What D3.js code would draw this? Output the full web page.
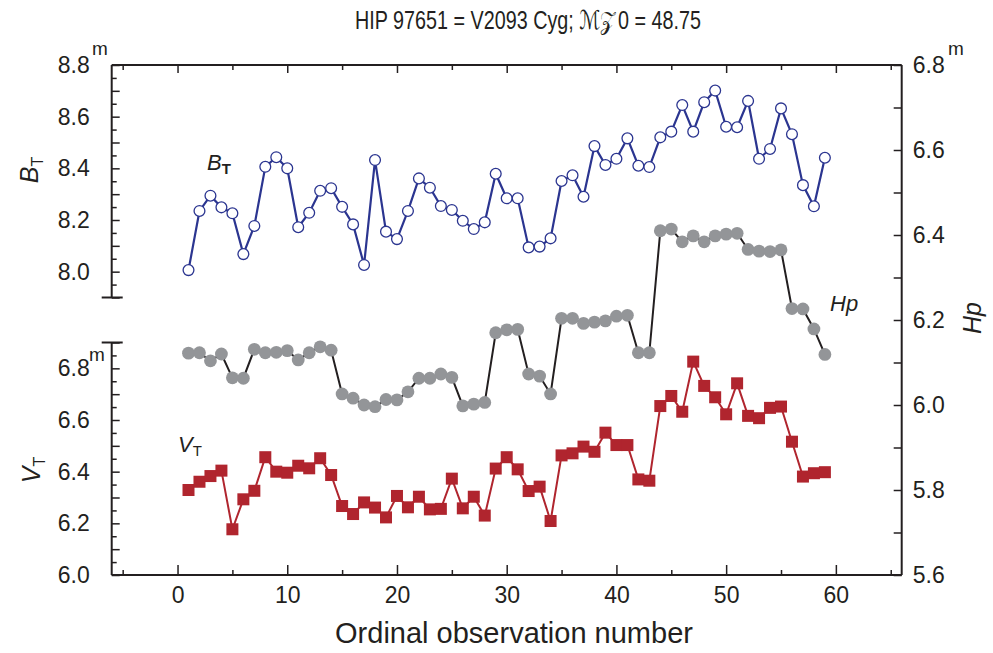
<!DOCTYPE html>
<html><head><meta charset="utf-8">
<script src="https://cdn.jsdelivr.net/npm/d3@7/dist/d3.min.js"></script>
<style>
body{margin:0;background:#fff;}
svg{display:block;font-family:"Liberation Sans",Arial,sans-serif;}
</style></head>
<body>
<svg id="c" width="993" height="653"></svg>
<script>
const obs = [1,2,3,4,5,6,7,8,9,10,11,12,13,14,15,16,17,18,19,20,21,22,23,24,25,26,27,28,29,30,
  31,32,33,34,35,36,37,38,39,40,41,42,43,44,45,46,47,48,49,50,51,52,53,54,55,56,57,58,59];
const bt = [8.006,8.235,8.294,8.249,8.226,8.068,8.177,8.406,8.443,8.400,8.172,8.228,8.313,8.323,8.251,
  8.183,8.026,8.432,8.155,8.126,8.235,8.361,8.325,8.254,8.239,8.197,8.165,8.191,8.379,8.284,
  8.284,8.094,8.097,8.129,8.351,8.373,8.290,8.486,8.413,8.437,8.516,8.410,8.405,8.520,8.542,
  8.645,8.542,8.656,8.701,8.561,8.559,8.661,8.437,8.475,8.632,8.532,8.335,8.253,8.441];
const hp = [6.122,6.123,6.104,6.120,6.064,6.063,6.131,6.123,6.124,6.128,6.106,6.123,6.137,6.129,6.026,
  6.016,6.000,5.996,6.013,6.012,6.031,6.063,6.063,6.073,6.065,5.998,6.002,6.006,6.170,6.177,
  6.178,6.073,6.068,6.026,6.204,6.204,6.192,6.195,6.198,6.209,6.211,6.123,6.123,6.410,6.414,
  6.384,6.398,6.384,6.398,6.402,6.404,6.366,6.362,6.361,6.365,6.227,6.226,6.179,6.119];
const vt = [6.329,6.361,6.383,6.404,6.177,6.293,6.326,6.456,6.400,6.396,6.423,6.413,6.452,6.387,6.267,
  6.236,6.281,6.261,6.223,6.306,6.262,6.303,6.254,6.256,6.373,6.258,6.303,6.230,6.412,6.456,
  6.409,6.325,6.342,6.209,6.463,6.471,6.497,6.477,6.551,6.503,6.503,6.370,6.365,6.654,6.693,
  6.632,6.826,6.732,6.688,6.622,6.742,6.616,6.607,6.647,6.652,6.516,6.381,6.394,6.398];
const xTicks = [0,10,20,30,40,50,60];
const btTicks = [8.0,8.2,8.4,8.6,8.8];
const vtTicks = [6.0,6.2,6.4,6.6,6.8];
const hpTicks = [5.6,5.8,6.0,6.2,6.4,6.6,6.8];

const svg = d3.select("#c");
const AX = "#231f20";
const x = d3.scaleLinear([-6,66],[111.7,901.7]);
const yB = d3.scaleLinear([7.9,8.8],[297.5,65]);
const yV = d3.scaleLinear([6.0,6.9],[575,342.5]);
const yH = d3.scaleLinear([5.6,6.8],[575,65]);
const fmt = d3.format(".1f");
const r2 = v => Math.round(v*100)/100;

function clean(g){ g.select(".domain").remove(); g.selectAll("line").attr("stroke",AX).attr("stroke-width",1.5); g.selectAll("text").attr("fill",AX); }

// top axis ticks
const minorX = [-5,5,15,25,35,45,55,65];
svg.append("g").attr("transform","translate(0,65)").call(d3.axisBottom(x).tickValues(xTicks).tickSize(8).tickFormat("")).call(clean);
svg.append("g").attr("transform","translate(0,65)").call(d3.axisBottom(x).tickValues(minorX).tickSize(5).tickFormat("")).call(clean);
// bottom axis
svg.append("g").attr("transform","translate(0,575)").call(d3.axisBottom(x).tickValues(xTicks).tickSize(-10).tickPadding(12).tickFormat(d3.format("d")))
  .call(clean).call(g=>g.selectAll("text").attr("font-size",23).attr("font-family","Liberation Sans, Arial"));
svg.append("g").attr("transform","translate(0,575)").call(d3.axisBottom(x).tickValues(minorX).tickSize(-5).tickFormat("")).call(clean);

// left BT axis
const btAll = d3.range(0,19).map(i=>r2(7.9+i*0.05));
svg.append("g").attr("transform","translate(111.7,0)")
  .call(d3.axisLeft(yB).tickValues(btAll.filter(v=>Math.abs(v*10-Math.round(v*10))<1e-6)).tickSize(-8).tickFormat(""))
  .call(clean);
svg.append("g").attr("transform","translate(111.7,0)")
  .call(d3.axisLeft(yB).tickValues(btAll.filter(v=>Math.abs(v*10-Math.round(v*10))>1e-6)).tickSize(-5).tickFormat(""))
  .call(clean);
svg.append("g").attr("transform","translate(111.7,0)")
  .call(d3.axisLeft(yB).tickValues(btTicks).tickSize(0).tickPadding(22).tickFormat(fmt))
  .call(clean).call(g=>g.selectAll("text").attr("font-size",23));
// left VT axis
const vtAll = d3.range(0,19).map(i=>r2(6.0+i*0.05));
svg.append("g").attr("transform","translate(111.7,0)")
  .call(d3.axisLeft(yV).tickValues(vtAll.filter(v=>Math.abs(v*10-Math.round(v*10))<1e-6)).tickSize(-8).tickFormat(""))
  .call(clean);
svg.append("g").attr("transform","translate(111.7,0)")
  .call(d3.axisLeft(yV).tickValues(vtAll.filter(v=>Math.abs(v*10-Math.round(v*10))>1e-6)).tickSize(-5).tickFormat(""))
  .call(clean);
svg.append("g").attr("transform","translate(111.7,0)")
  .call(d3.axisLeft(yV).tickValues(vtTicks).tickSize(0).tickPadding(22).tickFormat(fmt))
  .call(clean).call(g=>g.selectAll("text").attr("font-size",23));
// right Hp axis
const hpAll = d3.range(0,13).map(i=>r2(5.6+i*0.1));
svg.append("g").attr("transform","translate(901.7,0)")
  .call(d3.axisRight(yH).tickValues(hpAll).tickSize(-8).tickFormat(""))
  .call(clean);
svg.append("g").attr("transform","translate(901.7,0)")
  .call(d3.axisRight(yH).tickValues(hpTicks).tickSize(0).tickPadding(11).tickFormat(fmt))
  .call(clean).call(g=>g.selectAll("text").attr("font-size",23));

// frame lines
const fr = svg.append("g").attr("stroke",AX).attr("stroke-width",2).attr("fill","none");
fr.append("line").attr("x1",x(-6)).attr("x2",x(66)).attr("y1",65).attr("y2",65);
fr.append("line").attr("x1",x(-6)).attr("x2",x(66)).attr("y1",575).attr("y2",575);
fr.append("line").attr("x1",x(66)).attr("x2",x(66)).attr("y1",65).attr("y2",575);
fr.append("line").attr("x1",x(-6)).attr("x2",x(-6)).attr("y1",yB(8.8)).attr("y2",yB(7.9));
fr.append("line").attr("x1",x(-6)-10).attr("x2",x(-6)+11).attr("y1",yB(7.9)).attr("y2",yB(7.9));
fr.append("line").attr("x1",x(-6)).attr("x2",x(-6)).attr("y1",yV(6.9)).attr("y2",yV(6.0));
fr.append("line").attr("x1",x(-6)-10).attr("x2",x(-6)+11).attr("y1",yV(6.9)).attr("y2",yV(6.9));

// Hp series
const hpData = obs.map((o,i)=>[o,hp[i]]);
svg.append("path").datum(hpData).attr("fill","none").attr("stroke","#231f20").attr("stroke-width",2)
  .attr("d",d3.line().x(d=>x(d[0])).y(d=>yH(d[1])));
svg.append("g").selectAll("circle").data(hpData).join("circle")
  .attr("cx",d=>x(d[0])).attr("cy",d=>yH(d[1])).attr("r",6.4).attr("fill","#939598");

// VT series
const vtData = obs.map((o,i)=>[o,vt[i]]);
svg.append("path").datum(vtData).attr("fill","none").attr("stroke","#b0252e").attr("stroke-width",2)
  .attr("d",d3.line().x(d=>x(d[0])).y(d=>yV(d[1])));
svg.append("g").selectAll("rect").data(vtData).join("rect")
  .attr("x",d=>x(d[0])-6).attr("y",d=>yV(d[1])-6).attr("width",12).attr("height",12).attr("fill","#b0252e");

// BT series
const btData = obs.map((o,i)=>[o,bt[i]]);
svg.append("path").datum(btData).attr("fill","none").attr("stroke","#2b3590").attr("stroke-width",2.2)
  .attr("d",d3.line().x(d=>x(d[0])).y(d=>yB(d[1])));
svg.append("g").selectAll("circle").data(btData).join("circle")
  .attr("cx",d=>x(d[0])).attr("cy",d=>yB(d[1])).attr("r",5.4).attr("fill","#fff").attr("stroke","#2b3590").attr("stroke-width",1.3);

// texts
const T = (xx,yy,s,o={})=>{const t=svg.append("text").attr("x",xx).attr("y",yy).attr("fill",AX).attr("font-size",o.fs||23)
  .attr("text-anchor",o.anchor||"start"); if(o.italic) t.attr("font-style","italic"); t.text(s); return t;};
// title
const title = svg.append("text").attr("transform","translate(528,29) scale(0.76,1)").attr("text-anchor","middle")
  .attr("font-size",26).attr("fill",AX);
title.append("tspan").text("HIP 97651 = V2093 Cyg; ");
title.append("tspan").attr("font-family","DejaVu Sans, serif").text("\u2133\u{1D4B5}");
title.append("tspan").attr("dx",3).text("0 = 48.75");
// superscript m
T(92,55,"m",{fs:19});
T(948,55,"m",{fs:19});
T(89,361,"m",{fs:19});
// in-plot labels
const bl = svg.append("text").attr("x",207).attr("y",170).attr("font-size",22).attr("fill",AX);
bl.append("tspan").attr("font-style","italic").text("B");
bl.append("tspan").attr("font-size",15).attr("font-weight","bold").attr("dy",4).text("T");
const vl = svg.append("text").attr("x",178).attr("y",452).attr("font-size",22).attr("fill",AX);
vl.append("tspan").attr("font-style","italic").text("V");
vl.append("tspan").attr("font-size",15).attr("dy",4).text("T");
T(830,311,"Hp",{fs:22,italic:true});
// axis titles
const lb = svg.append("text").attr("transform","translate(38,170) rotate(-90)").attr("text-anchor","middle").attr("font-size",25).attr("fill",AX);
lb.append("tspan").attr("font-style","italic").text("B");
lb.append("tspan").attr("font-size",16).attr("dy",5).text("T");
const lv = svg.append("text").attr("transform","translate(40,470) rotate(-90)").attr("text-anchor","middle").attr("font-size",25).attr("fill",AX);
lv.append("tspan").attr("font-style","italic").text("V");
lv.append("tspan").attr("font-size",16).attr("dy",5).text("T");
svg.append("text").attr("transform","translate(981,318) rotate(-90)").attr("text-anchor","middle").attr("font-size",25).attr("font-style","italic").attr("fill",AX).text("Hp");
T(514,643,"Ordinal observation number",{fs:29,anchor:"middle"});
</script>
</body></html>
